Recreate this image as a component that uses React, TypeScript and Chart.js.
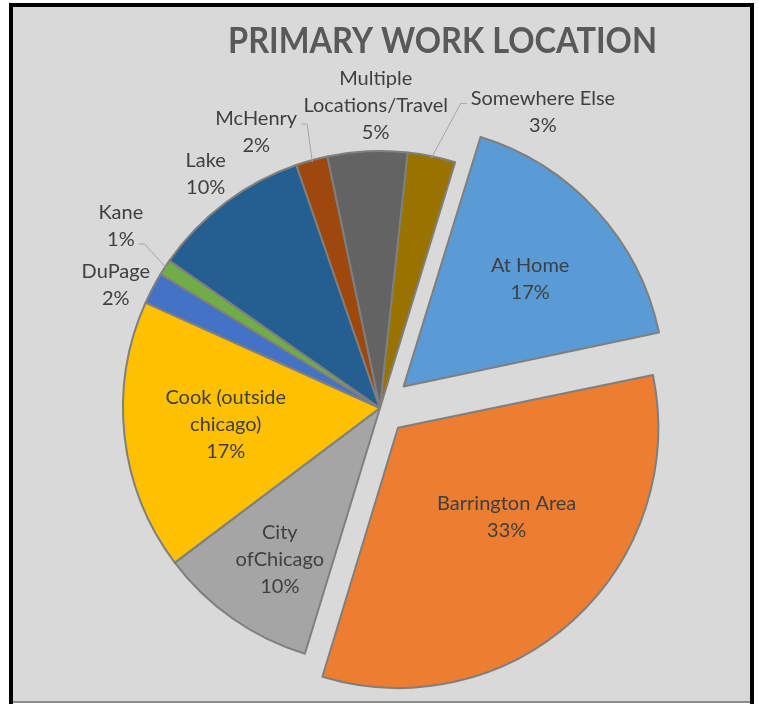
import React, { useEffect, useRef } from "react";
import { Chart, registerables } from "chart.js";

Chart.register(...registerables);

// ---- data ----
const categories = [
  "At Home",
  "Barrington Area",
  "City ofChicago",
  "Cook (outside chicago)",
  "DuPage",
  "Kane",
  "Lake",
  "McHenry",
  "Multiple Locations/Travel",
  "Somewhere Else",
];
const shares = [17, 33, 10, 17, 2, 1, 10, 2, 5, 3];
const labelLines = [
  ["At Home"],
  ["Barrington Area"],
  ["City", "ofChicago"],
  ["Cook (outside", "chicago)"],
  ["DuPage"],
  ["Kane"],
  ["Lake"],
  ["McHenry"],
  ["Multiple", "Locations/Travel"],
  ["Somewhere Else"],
];
const titleText = "PRIMARY WORK LOCATION";

// ---- styles / layout ----
const sliceColors = [
  "#5B9BD5",
  "#ED7D31",
  "#A5A5A5",
  "#FFC000",
  "#4472C4",
  "#70AD47",
  "#255E91",
  "#9E480E",
  "#636363",
  "#997300",
];
const explodePx = [36, 30, 0, 0, 0, 0, 0, 0, 0, 0];
// radial factor of radius, plus small nudges; leader: side & line index
const placement = [
  { r: 0.63, dx: 4, dy: 4 },
  { r: 0.522, dx: 16, dy: -12 },
  { r: 0.7, dx: 3, dy: 4 },
  { r: 0.6, dx: -1, dy: -1 },
  { r: 1.14, dx: -5, dy: 14 },
  { r: 1.14, dx: -14, dy: -22, leader: { side: "right", line: -1 } },
  { r: 1.14, dx: 2, dy: 0 },
  { r: 1.14, dx: -46, dy: 7, leader: { side: "right", line: 0 } },
  { r: 1.14, dx: 10, dy: -10 },
  { r: 1.14, dx: 104, dy: -9, leader: { side: "left", line: 0 } },
];

const LABEL_FONT = '20px Lato, "Open Sans", sans-serif';
const LINE_H = 27;

function chartOffsetFor(px: number, value: number, total: number) {
  if (!px) return 0;
  const circ = (value / total) * Math.PI * 2;
  const factor = (2 - Math.sin(Math.min(Math.PI, circ))) / 4;
  return px / factor;
}

const frame = {
  id: "frame",
  beforeDraw(chart: any) {
    const ctx = chart.ctx as CanvasRenderingContext2D;
    const W = chart.width;
    const H = chart.height;
    ctx.save();
    ctx.fillStyle = "#ffffff";
    ctx.fillRect(0, 0, W, H);
    ctx.fillStyle = "#d9d9d9";
    ctx.fillRect(13, 7, 737, 694);
    ctx.fillStyle = "#000000";
    ctx.fillRect(9, 3, 4, 701);
    ctx.fillRect(9, 3, 745, 4);
    ctx.fillRect(750, 3, 4, 701);
    ctx.fillStyle = "#8c8c8c";
    ctx.fillRect(13, 701, 737, 2);
    // title
    ctx.font = 'bold 36px Lato, "Open Sans", sans-serif';
    ctx.fillStyle = "#595959";
    ctx.textBaseline = "alphabetic";
    ctx.textAlign = "center";
    const w = ctx.measureText(titleText).width;
    const target = 429;
    ctx.translate(442.5, 53);
    ctx.scale(target / w, 1);
    ctx.fillText(titleText, 0, 0);
    ctx.restore();
  },
};

const sliceLabels = {
  id: "sliceLabels",
  afterDatasetsDraw(chart: any) {
    const ctx = chart.ctx as CanvasRenderingContext2D;
    const meta = chart.getDatasetMeta(0);
    const data = chart.data.datasets[0].data as number[];
    const total = data.reduce((a, b) => a + b, 0);
    ctx.save();
    ctx.font = LABEL_FONT;
    ctx.textAlign = "center";
    ctx.textBaseline = "middle";
    meta.data.forEach((arc: any, i: number) => {
      const { x, y, startAngle, endAngle, outerRadius } = arc.getProps(
        ["x", "y", "startAngle", "endAngle", "outerRadius"],
        true
      );
      const mid = (startAngle + endAngle) / 2;
      const shift = explodePx[i];
      const cx = x + Math.cos(mid) * shift;
      const cy = y + Math.sin(mid) * shift;
      const p: any = placement[i];
      const lx = cx + Math.cos(mid) * outerRadius * p.r + p.dx;
      const ly = cy + Math.sin(mid) * outerRadius * p.r + p.dy;
      const pct = Math.round((data[i] / total) * 100) + "%";
      const lines = [...labelLines[i], pct];
      const n = lines.length;
      ctx.fillStyle = "#3f3f3f";
      lines.forEach((t, k) => {
        ctx.fillText(t, lx, ly + (k - (n - 1) / 2) * LINE_H);
      });
      if (p.leader) {
        const li = p.leader.line < 0 ? n - 1 : p.leader.line;
        const tw = ctx.measureText(lines[li]).width;
        const yy = ly + (li - (n - 1) / 2) * LINE_H + 5;
        const dir = p.leader.side === "left" ? -1 : 1;
        const x0 = lx + dir * (tw / 2 + 4);
        const x1 = x0 + dir * 6;
        const ax = cx + Math.cos(mid) * (outerRadius - 2);
        const ay = cy + Math.sin(mid) * (outerRadius - 2);
        ctx.strokeStyle = "#a6a6a6";
        ctx.lineWidth = 1;
        ctx.beginPath();
        ctx.moveTo(x0, yy);
        ctx.lineTo(x1, yy);
        ctx.lineTo(ax, ay);
        ctx.stroke();
      }
    });
    ctx.restore();
  },
};

export default function App() {
  const ref = useRef<HTMLCanvasElement | null>(null);
  useEffect(() => {
    if (!ref.current) return;
    const total = shares.reduce((a, b) => a + b, 0);
    const chart = new Chart(ref.current, {
      type: "pie",
      data: {
        labels: categories,
        datasets: [
          {
            data: shares,
            backgroundColor: sliceColors,
            borderColor: "#7f7f7f",
            borderWidth: 2,
            borderJoinStyle: "round",
            offset: shares.map((v, i) => chartOffsetFor(explodePx[i], v, total)),
          } as any,
        ],
      },
      options: {
        responsive: false,
        animation: false,
        devicePixelRatio: 1,
        events: [],
        rotation: 17,
        radius: 257,
        layout: { padding: { left: 1, right: 0, top: 111, bottom: 0 } },
        plugins: {
          legend: { display: false },
          title: { display: false },
          tooltip: { enabled: false },
        },
      } as any,
      plugins: [frame, sliceLabels],
    });
    return () => chart.destroy();
  }, []);
  return (
    <div style={{ position: "absolute", left: 0, top: 0, width: 759, height: 705 }}>
      <canvas ref={ref} width={759} height={705} style={{ display: "block" }} />
    </div>
  );
}
